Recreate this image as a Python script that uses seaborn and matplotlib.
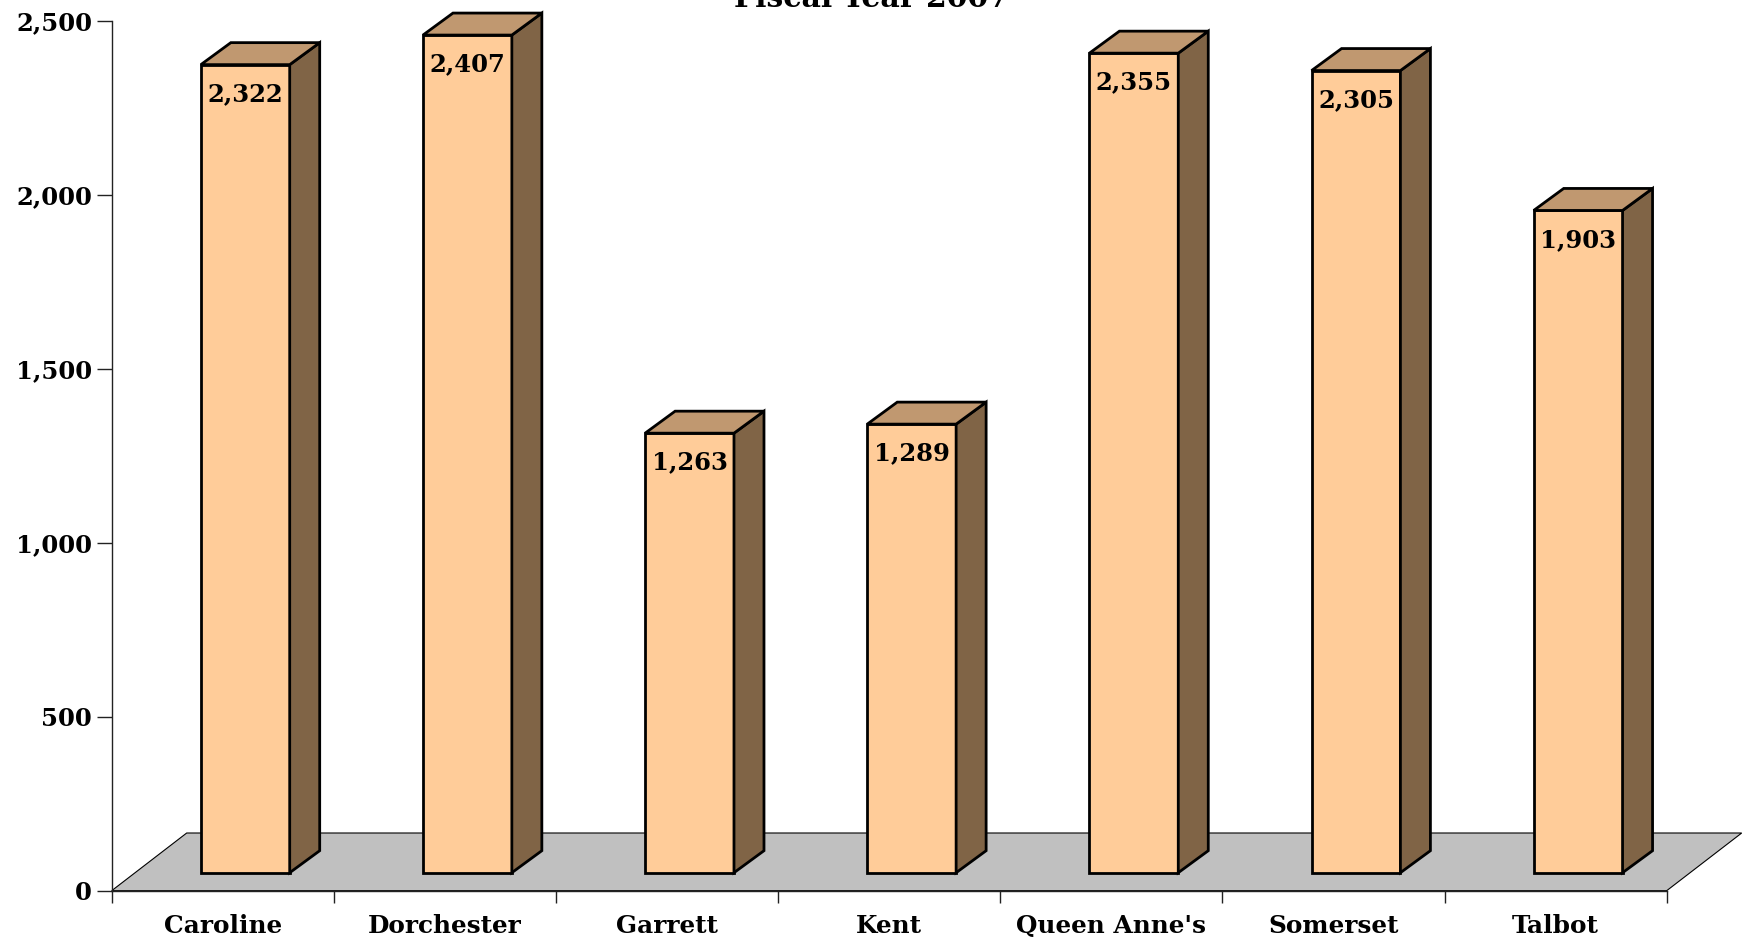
import matplotlib
matplotlib.use("Agg")
import matplotlib.pyplot as plt
from matplotlib.patches import Polygon
import seaborn as sns

# ---- data ----
categories = ["Caroline", "Dorchester", "Garrett", "Kent", "Queen Anne's", "Somerset", "Talbot"]
values = [2322, 2407, 1263, 1289, 2355, 2305, 1903]
yticks = [0, 500, 1000, 1500, 2000, 2500]
ytick_labels = ["0", "500", "1,000", "1,500", "2,000", "2,500"]
title = "Fiscal Year 2007"

sns.set_style("white")
plt.rcParams["font.family"] = ["DejaVu Serif"]
plt.rcParams["font.weight"] = "bold"
plt.rcParams["text.color"] = "black"
plt.rcParams["xtick.labelcolor"] = "black"
plt.rcParams["ytick.labelcolor"] = "black"

W, H, DPI = 1743, 942, 100
fig = plt.figure(figsize=(W / DPI, H / DPI), dpi=DPI)
ax_left, ax_w = 111.7 / W, 1555 / W
ax_bot, ax_h = (H - 890.7) / H, 870 / H
ax = fig.add_axes([ax_left, ax_bot, ax_w, ax_h])

n = len(categories)
ymax = 2500
px_x = ax_w * W / n          # pixels per category
px_y = ax_h * H / ymax       # pixels per unit

# depth offsets (pixels -> data units)
fdx, fdy = 22.5 / px_x, 18 / px_y      # bar front plane
bdx, bdy = 30 / px_x, 22 / px_y        # bar depth
flx, fly = 75 / px_x, 57.7 / px_y      # floor depth

front_c = "#FFCC99"
top_c = "#C09870"
side_c = "#806446"
bar_w = 0.4

sns.barplot(x=categories, y=values, color=front_c, saturation=1, width=bar_w,
            edgecolor="black", linewidth=2, ax=ax, zorder=3)
bars = list(ax.patches)

ax.set_xlim(-0.5, n - 0.5)
ax.set_ylim(0, ymax)

# floor
floor = Polygon([(-0.5, 0), (n - 0.5, 0), (n - 0.5 + flx, fly), (-0.5 + flx, fly)],
                closed=True, facecolor="#C0C0C0", edgecolor="black", linewidth=0.8,
                zorder=1, clip_on=False)
ax.add_patch(floor)

for i, (p, v) in enumerate(zip(bars, values)):
    p.set_x(p.get_x() + fdx)
    p.set_y(fdy)
    p.set_clip_on(False)
    p.set_joinstyle("miter")
    xl = p.get_x()
    xr = xl + p.get_width()
    top = fdy + v
    side = Polygon([(xr, fdy), (xr + bdx, fdy + bdy), (xr + bdx, top + bdy), (xr, top)],
                   closed=True, facecolor=side_c, edgecolor="black", linewidth=2,
                   zorder=3, clip_on=False, joinstyle="miter")
    topf = Polygon([(xl, top), (xr, top), (xr + bdx, top + bdy), (xl + bdx, top + bdy)],
                   closed=True, facecolor=top_c, edgecolor="black", linewidth=2,
                   zorder=3, clip_on=False, joinstyle="miter")
    ax.add_patch(side)
    ax.add_patch(topf)
    ax.annotate(f"{v:,}", xy=((xl + xr) / 2, top), xytext=(0, -12.5),
                textcoords="offset points", ha="center", va="top",
                fontsize=17.5, fontweight="bold", color="black", zorder=5,
                annotation_clip=False)

# axes styling
for s in ["top", "right"]:
    ax.spines[s].set_visible(False)
for s in ["left", "bottom"]:
    ax.spines[s].set_color("#222222")
    ax.spines[s].set_linewidth(1.0)

ax.set_yticks(yticks)
ax.set_yticklabels(ytick_labels, fontsize=17.5, fontweight="bold", color="black")
ax.tick_params(axis="y", direction="out", length=10.6, width=1.0, pad=3.5, color="#222222",
               left=True)

ax.set_xticks(range(n))
ax.set_xticklabels(categories, fontsize=17.8, fontweight="bold", color="black")
ax.set_xticks([i - 0.5 for i in range(n + 1)], minor=True)
ax.tick_params(axis="x", which="major", length=0, pad=16.8)
ax.tick_params(axis="x", which="minor", direction="out", length=8.6, width=1.0,
               color="#222222", bottom=True)
ax.set_xlabel("")
ax.set_ylabel("")
ax.grid(False)

fig.text(0.5, 1 - 7 / H, title, ha="center", va="baseline", fontsize=21.5,
         fontweight="bold", color="black")

fig.savefig("out.png", dpi=DPI)
